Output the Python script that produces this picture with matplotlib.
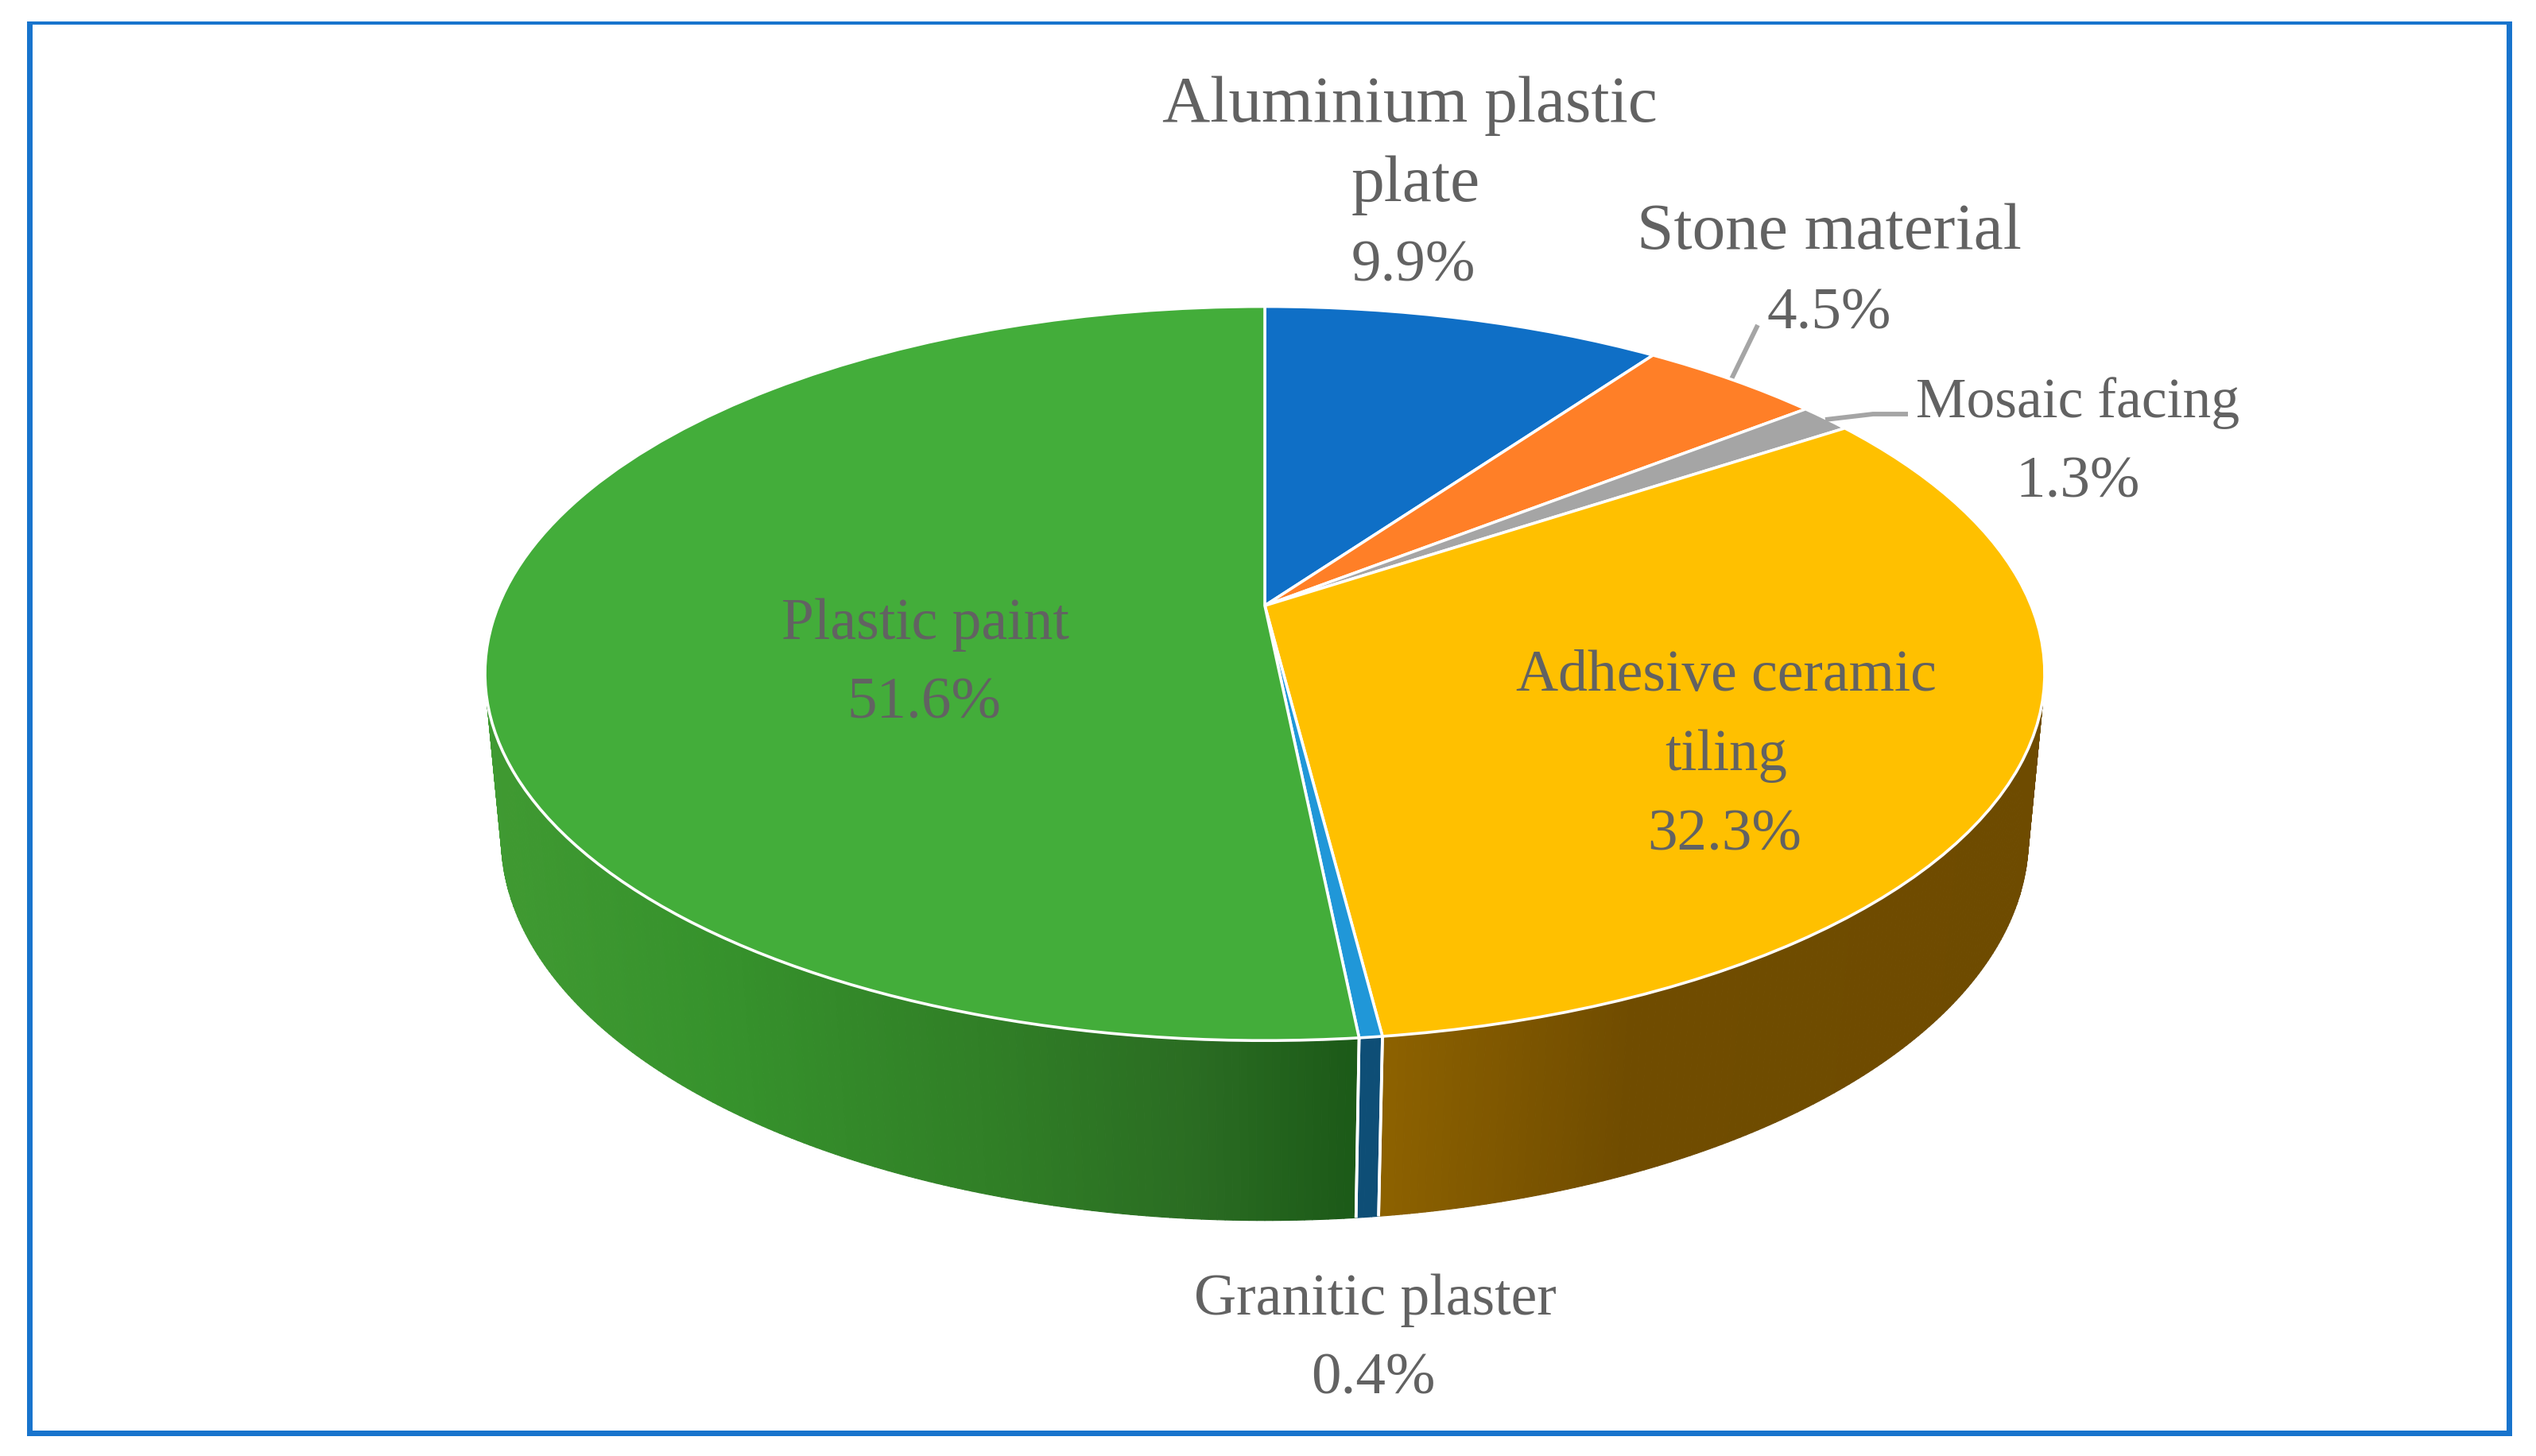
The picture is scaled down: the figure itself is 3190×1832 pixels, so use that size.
import numpy as np
import matplotlib
matplotlib.use("Agg")
import matplotlib.pyplot as plt
from matplotlib.collections import PolyCollection
from matplotlib.patches import Rectangle
from matplotlib.transforms import Transform

# ---- data ----
categories = ["Aluminium plastic\nplate", "Stone material", "Mosaic facing",
              "Adhesive ceramic\ntiling", "Granitic plaster", "Plastic paint"]
values = [9.9, 4.5, 1.3, 32.3, 0.4, 51.6]
top_colors = ["#0F6FC6", "#FF7F27", "#A5A5A5", "#FFC000", "#2097D8", "#43AD3A"]

W, H = 3190, 1833
TEXT = "#626262"
FONT = "Liberation Serif"


class Perspective(Transform):
    """Projective view of a unit disc, output in figure pixels."""
    input_dims = output_dims = 2
    is_affine = False

    def __init__(self, cx, cy, a, b, k):
        super().__init__()
        self.cx, self.cy, self.a, self.b, self.k = cx, cy, a, b, k

    def transform_non_affine(self, xy):
        xy = np.asarray(xy, float)
        w = 1 + self.k * xy[:, 1]
        return np.column_stack((self.cx + self.a * xy[:, 0] / w,
                                self.cy - self.b * xy[:, 1] / w))


top_plane = Perspective(1591, 763, 964, 446, 0.185)
low_plane = Perspective(1591, 972, 946, 467, 0.173)


def lerp_color(x, stops):
    xs, cs = zip(*stops)
    return np.array([np.interp(x, xs, [c[i] / 255 for c in cs]) for i in range(3)] + [1.0])


wall_stops = {
    5: [(600, (64, 154, 50)), (900, (54, 146, 44)), (1250, (48, 126, 38)),
        (1500, (42, 108, 34)), (1700, (28, 90, 24))],
    4: [(1700, (14, 78, 118)), (1760, (14, 78, 118))],
    3: [(1745, (140, 97, 0)), (2050, (112, 76, 0)), (2600, (110, 75, 0))],
}

fig = plt.figure(figsize=(W / 100, H / 100), dpi=100, facecolor="white")
ax = fig.add_axes([0, 0, 1, 1])

wedges, _ = ax.pie(values, startangle=90, counterclock=False, colors=top_colors,
                   wedgeprops=dict(edgecolor="white", linewidth=2.6, zorder=5))
for w in wedges:
    w.set_transform(top_plane + ax.transData)

# side wall, drawn as thin facets below the top face
for idx, wedge in enumerate(wedges):
    if idx not in wall_stops:
        continue
    th = np.radians(np.arange(wedge.theta1, wedge.theta2 + 0.25, 0.5))
    th[-1] = min(th[-1], np.radians(wedge.theta2))
    pts = np.column_stack((np.cos(th), np.sin(th)))
    up = top_plane.transform_non_affine(pts)
    lo = low_plane.transform_non_affine(pts)
    quads = [[up[i], up[i + 1], lo[i + 1], lo[i]] for i in range(len(th) - 1)]
    cols = [lerp_color(q[0][0], wall_stops[idx]) for q in quads]
    ax.add_collection(PolyCollection(quads, facecolors=cols, edgecolors=cols,
                                     linewidths=0.8, zorder=2))
    for i in (0, -1):
        ax.plot([up[i, 0], lo[i, 0]], [up[i, 1], lo[i, 1]], color="white", lw=2.6,
                zorder=3, solid_capstyle="butt")

ax.set_aspect("auto")
ax.set_xlim(0, W)
ax.set_ylim(H, 0)
ax.set_frame_on(False)
ax.set_xticks([])
ax.set_yticks([])

# label lines: centre x per line, first baseline y, font size per line (pixels / points)
label_x = [(1773, 1781, 1778), (2301, 2301), (2614, 2614), (2171, 2171, 2169),
           (1730, 1727), (1164, 1162)]
label_y = [153, 313, 525, 869, 1654, 804]
label_fs = [(60, 60, 54), (60, 54), (51.5, 54), (53, 52.5, 54), (53, 54), (53, 54)]
LINE = 100
for name, val, xs, ly, sizes in zip(categories, values, label_x, label_y, label_fs):
    lines = name.split("\n") + [f"{val:.1f}%"]
    for j, line in enumerate(lines):
        ax.text(xs[j], ly + j * LINE, line, ha="center", va="baseline",
                fontsize=sizes[j], family=FONT, color=TEXT, zorder=8)

# leader lines
ax.plot([2211, 2175], [410, 484], color="#A5A5A5", lw=4.2, zorder=4, solid_capstyle="butt")
ax.plot([2400, 2356, 2296], [522, 522, 529], color="#A5A5A5", lw=4.2, zorder=6,
        solid_capstyle="butt")

# frame: blue sheet with a white inner sheet
ax.add_patch(Rectangle((34, 28), 3126, 1780, facecolor="#1874CD", edgecolor="none", zorder=0))
ax.add_patch(Rectangle((41, 32), 3112, 1769, facecolor="white", edgecolor="none", zorder=0.5))

fig.savefig("out.png", dpi=100, facecolor="white")
